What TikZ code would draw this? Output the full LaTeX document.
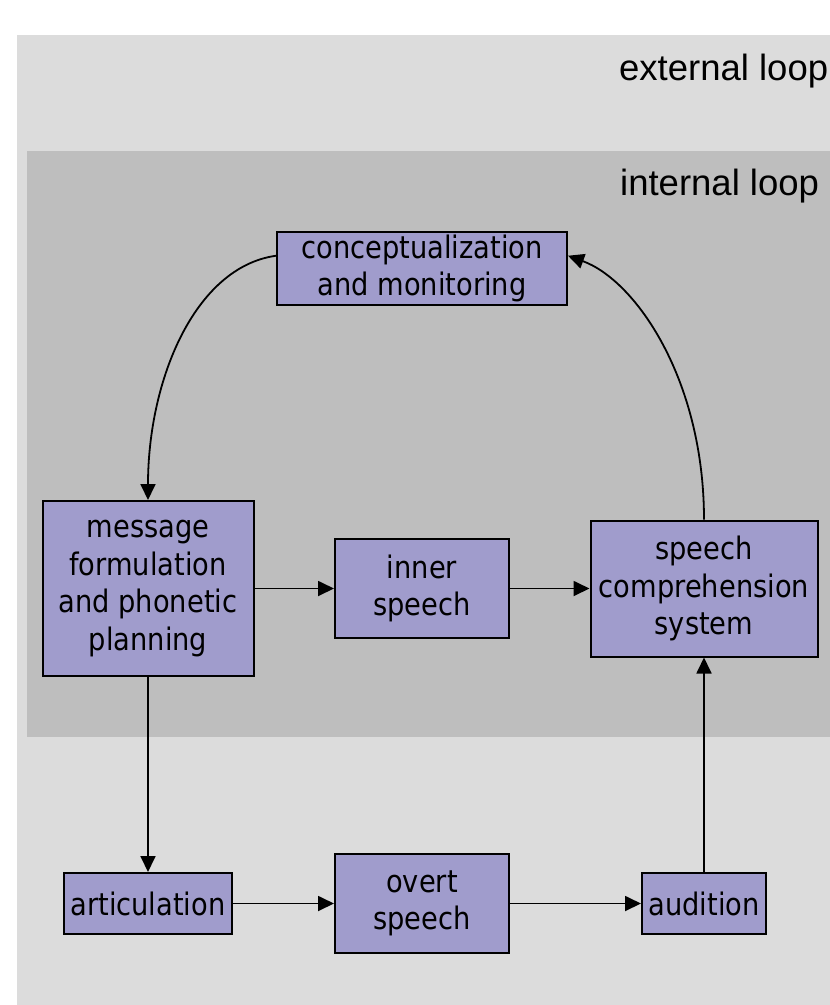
\documentclass[tikz,border=0pt]{standalone}
\usepackage{fontspec}
\setmainfont{DejaVu Sans}[FakeStretch=0.88]
\newfontfamily\looplabelfont{Liberation Sans}
\usepackage{xcolor}
\usetikzlibrary{arrows.meta}

\definecolor{outerbg}{RGB}{220,220,220}
\definecolor{innerbg}{RGB}{190,190,190}
\definecolor{boxfill}{RGB}{160,156,204}

\begin{document}
\begin{tikzpicture}[x=1pt, y=-1pt,
  box/.style={draw=black, line width=2pt, fill=boxfill, inner sep=0pt, align=center,
    font=\fontsize{31}{37.5}\selectfont},
  looplabel/.style={anchor=base west, inner sep=0pt, font=\looplabelfont\fontsize{36.5}{40}\selectfont},
  arr/.style={-{Triangle[length=16pt, width=15pt]}, line width=1.8pt}]
  \useasboundingbox (0,0) rectangle (830,1005);
  \fill[outerbg] (17,35) rectangle (830,1005);
  \fill[innerbg] (27,151) rectangle (830,737);
  \node[looplabel] (extlabel) at (619,80) {external loop};
  \node[looplabel] (intlabel) at (620,195) {internal loop};

  \node[box, minimum width=211pt, minimum height=175pt] (message) at (148,588.5) {message\\formulation\\and phonetic\\planning};
  \node[box, minimum width=290pt, minimum height=73pt] (concept) at (422,268.5) {conceptualization\\and monitoring};
  \node[box, minimum width=174pt, minimum height=99pt] (inner) at (422,588.5) {inner\\speech};
  \node[box, minimum width=227pt, minimum height=136pt] (compr) at (704,588.5) {speech\\comprehension\\system};
  \node[box, minimum width=168pt, minimum height=61pt] (artic) at (148,903.5) {articulation};
  \node[box, minimum width=174pt, minimum height=99pt] (overt) at (422,903.5) {overt\\speech};
  \node[box, minimum width=124pt, minimum height=61pt] (audit) at (704,903.5) {audition};

  \draw[arr] (concept.175) to[out=188, in=90, out distance=82pt, in distance=120pt] (message.north);
  \draw[arr] (compr.north) to[out=90, in=-20, out distance=140pt, in distance=72pt] (concept.5);
  \draw[arr] (message.east) -- (inner.west);
  \draw[arr] (inner.east) -- (compr.west);
  \draw[arr] (message.south) -- (artic.north);
  \draw[arr] (artic.east) -- (overt.west);
  \draw[arr] (overt.east) -- (audit.west);
  \draw[arr] (audit.north) -- (compr.south);
\end{tikzpicture}
\end{document}
